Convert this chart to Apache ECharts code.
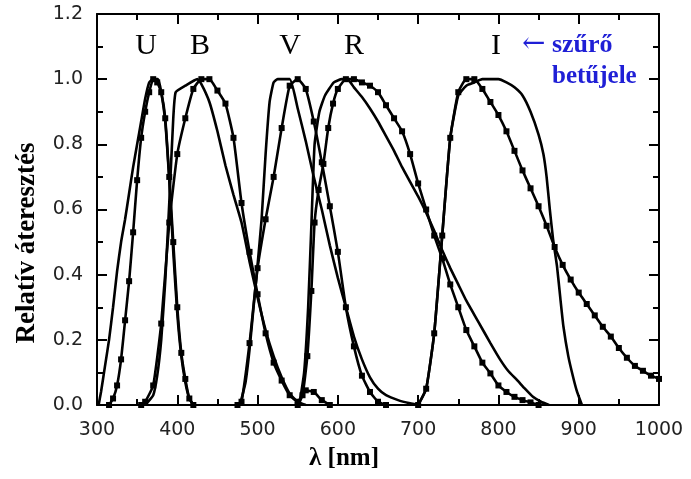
<!DOCTYPE html>
<html><head><meta charset="utf-8">
<script src="https://cdn.jsdelivr.net/npm/echarts@6/dist/echarts.min.js"></script>
<style>html,body{margin:0;padding:0;background:#fff}#c{width:691px;height:479px}</style>
</head><body><div id="c"></div>
<script>
// Wavelength [nm] vs relative transmission
const filterNames = ['U', 'B', 'V', 'R', 'I'];
const xTicks = [300, 400, 500, 600, 700, 800, 900, 1000];

// plain lines (no markers)
const uLine = [[302,0],[305,0.04],[310,0.12],[315,0.2],[320,0.3],[325,0.41],[330,0.5],[335,0.57],[340,0.65],[345,0.73],[350,0.8],[355,0.87],[360,0.94],[365,0.99],[370,1.0],[376,1.0],[380,0.96],[385,0.87],[390,0.69],[395,0.47],[400,0.28],[405,0.15],[410,0.07],[415,0.02],[420,0]];
const bLine = [[360,0],[370,0.03],[375,0.09],[380,0.2],[385,0.38],[390,0.62],[395,0.88],[398,0.96],[410,0.98],[425,1.0],[430,0.985],[440,0.93],[450,0.84],[460,0.735],[470,0.645],[480,0.56],[490,0.44],[500,0.33],[510,0.23],[520,0.15],[530,0.085],[540,0.035],[550,0.01],[560,0]];
const vLine = [[478,0],[485,0.07],[490,0.17],[495,0.3],[500,0.43],[505,0.57],[510,0.77],[515,0.93],[520,0.99],[525,1.0],[540,1.0],[550,0.91],[560,0.81],[570,0.7],[580,0.6],[590,0.49],[600,0.39],[610,0.3],[620,0.21],[630,0.14],[640,0.085],[650,0.05],[660,0.03],[675,0.015],[690,0.005],[700,0]];
const rLine = [[552,0],[558,0.1],[563,0.3],[567,0.55],[571,0.8],[577,0.9],[584,0.95],[595,0.99],[605,1.0],[612,1.0],[620,0.975],[630,0.945],[640,0.91],[650,0.87],[660,0.825],[670,0.78],[680,0.73],[690,0.685],[700,0.64],[710,0.59],[720,0.535],[730,0.475],[740,0.42],[750,0.37],[760,0.32],[775,0.255],[790,0.19],[802,0.14],[812,0.105],[823,0.077],[833,0.05],[843,0.025],[853,0.01],[863,0]];
const iLine = [[700,0],[710,0.05],[720,0.22],[730,0.52],[740,0.82],[750,0.95],[760,0.98],[770,0.99],[780,1.0],[800,1.0],[810,0.99],[820,0.975],[830,0.95],[840,0.9],[850,0.83],[856,0.77],[860,0.7],[864,0.6],[868,0.51],[873,0.425],[877,0.33],[881,0.24],[887,0.15],[893,0.086],[898,0.04],[904,0]];

// lines with square markers
const uMark = [[315,0],[320,0.02],[325,0.06],[330,0.14],[335,0.26],[340,0.38],[345,0.53],[350,0.69],[355,0.82],[360,0.9],[365,0.96],[370,1.0],[375,0.99],[380,0.96],[385,0.88],[390,0.7],[395,0.5],[400,0.3],[405,0.16],[410,0.08],[415,0.02],[420,0]];
const bMark = [[355,0],[360,0.01],[370,0.06],[380,0.25],[390,0.56],[400,0.77],[410,0.88],[420,0.97],[430,1.0],[440,1.0],[450,0.965],[460,0.925],[470,0.82],[480,0.62],[490,0.47],[500,0.34],[510,0.22],[520,0.13],[530,0.075],[540,0.03],[550,0.01],[560,0.045],[570,0.04],[580,0.015],[590,0]];
const vMark = [[475,0],[480,0.01],[490,0.19],[500,0.42],[510,0.57],[520,0.7],[530,0.85],[540,0.98],[550,1.0],[560,0.97],[570,0.87],[580,0.745],[590,0.61],[600,0.47],[610,0.3],[620,0.18],[630,0.09],[640,0.04],[650,0.01],[660,0]];
const rMark = [[550,0],[556,0.03],[562,0.15],[567,0.35],[571,0.56],[576,0.66],[582,0.74],[588,0.85],[594,0.925],[600,0.97],[610,1.0],[620,1.0],[630,0.99],[640,0.98],[650,0.96],[660,0.92],[670,0.88],[680,0.84],[690,0.77],[700,0.68],[710,0.6],[720,0.52],[730,0.45],[740,0.37],[750,0.3],[760,0.23],[770,0.18],[780,0.13],[790,0.097],[800,0.06],[810,0.04],[820,0.025],[830,0.015],[840,0.008],[850,0]];
const iMark = [[700,0],[710,0.05],[720,0.22],[730,0.52],[740,0.82],[750,0.96],[760,1.0],[770,1.0],[780,0.97],[790,0.93],[800,0.89],[810,0.84],[820,0.78],[830,0.72],[840,0.665],[850,0.61],[860,0.55],[870,0.485],[880,0.43],[890,0.385],[900,0.345],[910,0.31],[920,0.275],[930,0.24],[940,0.21],[950,0.175],[960,0.145],[970,0.12],[980,0.105],[990,0.09],[1000,0.08]];

const lineSets = [uLine, bLine, vLine, rLine, iLine];
const markSets = [uMark, bMark, vMark, rMark, iMark];

const chart = echarts.init(document.getElementById('c'), null, {renderer: 'canvas'});
const black = '#000';
function xAx(pos, showLabel) {
  return {
    type: 'value', min: 300, max: 1000, interval: 100, position: pos,
    axisLine: {show: true, onZero: false, lineStyle: {color: black, width: 2}},
    axisTick: {show: true, inside: true, length: 10, lineStyle: {color: black, width: 2}},
    minorTick: {show: true, splitNumber: 2, length: 6, lineStyle: {color: black, width: 2}},
    splitLine: {show: false},
    axisLabel: {show: showLabel, color: '#222', fontFamily: 'DejaVu Sans', fontSize: 19, margin: 16,
      formatter: v => String(v)}
  };
}
function yAx(pos, showLabel) {
  return {
    type: 'value', min: 0, max: 1.2, interval: 0.2, position: pos,
    axisLine: {show: true, onZero: false, lineStyle: {color: black, width: 2}},
    axisTick: {show: true, inside: true, length: 10, lineStyle: {color: black, width: 2}},
    minorTick: {show: true, splitNumber: 2, length: 6, lineStyle: {color: black, width: 2}},
    splitLine: {show: false},
    axisLabel: {show: showLabel, color: '#222', fontFamily: 'DejaVu Sans', fontSize: 19, margin: 14,
      formatter: v => v.toFixed(1)}
  };
}
const series = [];
lineSets.forEach((d, i) => series.push({
  name: filterNames[i] + ' line', type: 'line', data: d, symbol: 'none', smooth: 0.15,
  lineStyle: {color: black, width: 2.6}, animation: false, z: 3
}));
markSets.forEach((d, i) => series.push({
  name: filterNames[i] + ' mark', type: 'line', data: d, symbol: 'rect', symbolSize: 6, showSymbol: true,
  smooth: 0.15, lineStyle: {color: black, width: 2.6}, itemStyle: {color: black}, animation: false, z: 4
}));

const serif = '"Liberation Serif", "Times New Roman", serif';
const letterX = [146, 200, 290, 354, 496];
const graphic = filterNames.map((n, i) => ({
  type: 'text', x: letterX[i], y: 46,
  style: {text: n, font: '30px ' + serif, fill: black, align: 'center', verticalAlign: 'middle', textAlign: 'center', textVerticalAlign: 'middle'}
}));
graphic.push({type: 'text', x: 522, y: 45,
  style: {text: '{a|←} szűrő', font: 'bold 26px ' + serif, fill: '#1f1fd6', align: 'left', verticalAlign: 'middle', textAlign: 'left', textVerticalAlign: 'middle',
    rich: {a: {fontFamily: 'DejaVu Serif', fontSize: 28, fontWeight: 'normal', fill: '#1f1fd6', color: '#1f1fd6'}}}});
graphic.push({type: 'text', x: 552, y: 77,
  style: {text: 'betűjele', font: 'bold 25px ' + serif, fill: '#1f1fd6', align: 'left', verticalAlign: 'middle', textAlign: 'left', textVerticalAlign: 'middle'}});
graphic.push({type: 'text', x: 344, y: 459,
  style: {text: 'λ [nm]', font: 'bold 25px ' + serif, fill: black, align: 'center', verticalAlign: 'middle', textAlign: 'center', textVerticalAlign: 'middle'}});
graphic.push({type: 'text', x: 27, y: 243, rotation: Math.PI / 2,
  style: {text: 'Relatív áteresztés', font: 'bold 27px ' + serif, fill: black, align: 'center', verticalAlign: 'middle', textAlign: 'center', textVerticalAlign: 'middle'}});

chart.setOption({
  animation: false,
  backgroundColor: '#fff',
  grid: {left: 97, top: 14, width: 562, height: 391, containLabel: false},
  xAxis: [xAx('bottom', true), xAx('top', false)],
  yAxis: [yAx('left', true), yAx('right', false)],
  series: series,
  graphic: graphic
});
</script></body></html>
